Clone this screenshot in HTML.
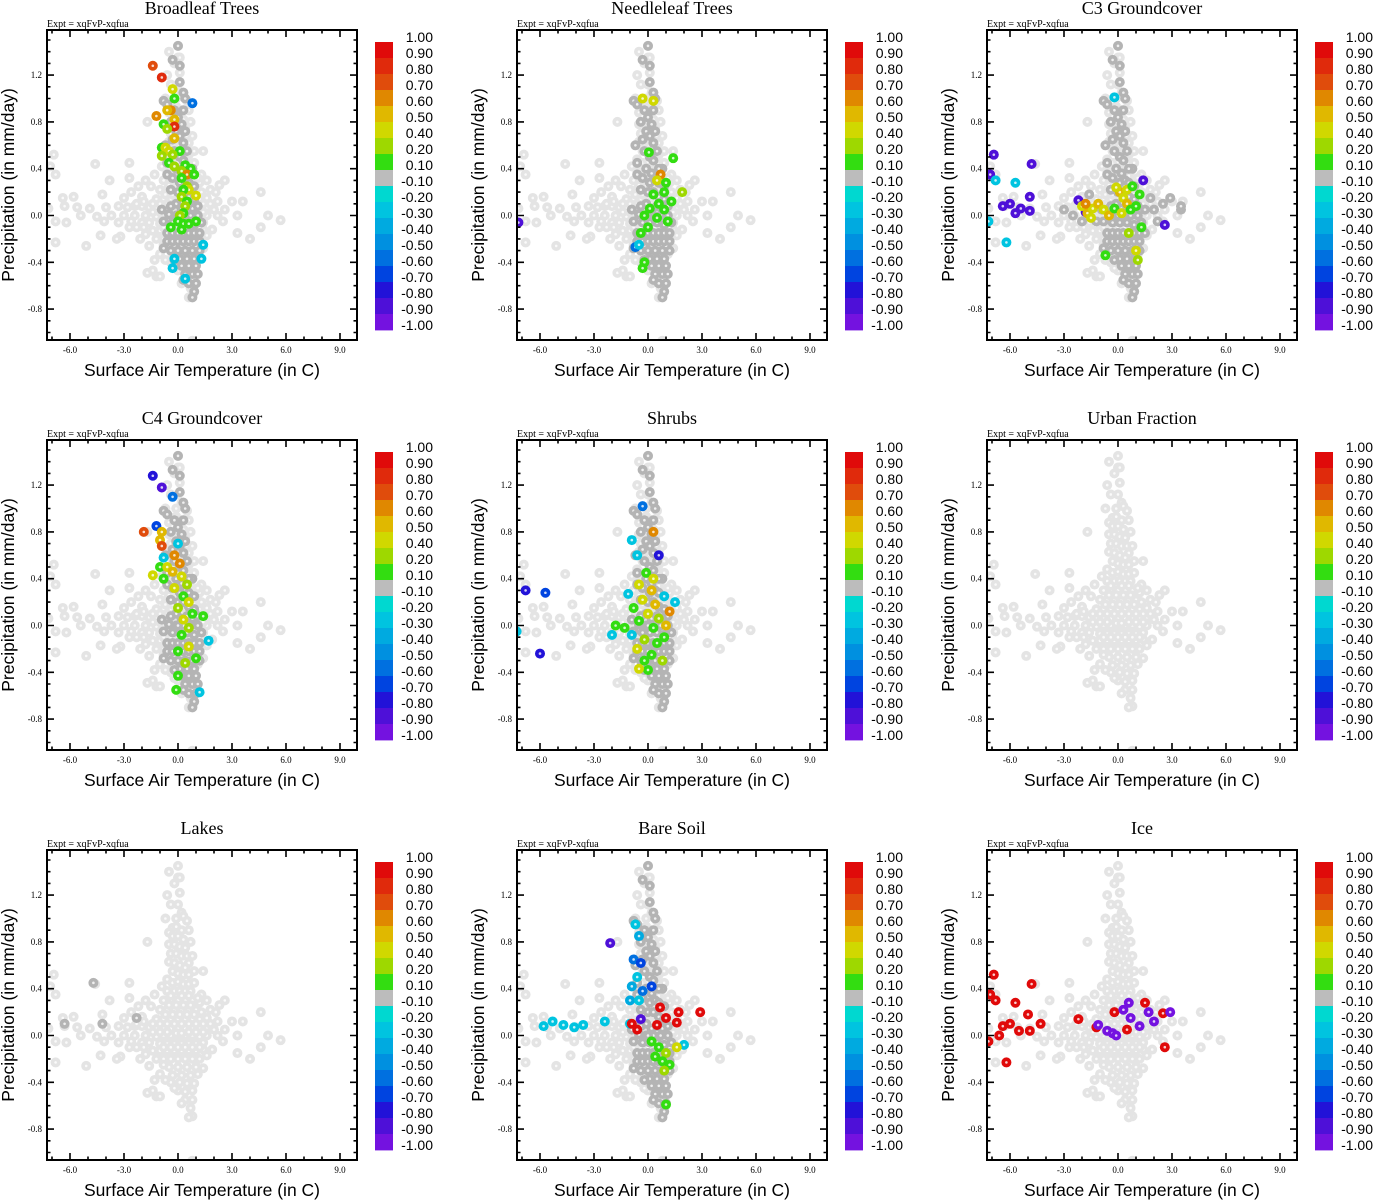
<!DOCTYPE html>
<html><head><meta charset="utf-8">
<style>
html,body{margin:0;padding:0;background:#fff;}
svg{display:block;}
.title{font-family:"Liberation Serif",serif;font-size:18px;}
.expt{font-family:"Liberation Serif",serif;font-size:10px;}
.tick{font-family:"Liberation Serif",serif;font-size:9px;}
.axt{font-family:"Liberation Sans",sans-serif;font-size:17.5px;}
.cbl{font-family:"Liberation Sans",sans-serif;font-size:14px;}
</style></head>
<body>
<svg id="fig" width="1373" height="1200" viewBox="0 0 1373 1200" xmlns="http://www.w3.org/2000/svg"></svg>
<script>
// ---- data ----
const panelTitles = ["Broadleaf Trees","Needleleaf Trees","C3 Groundcover","C4 Groundcover","Shrubs","Urban Fraction","Lakes","Bare Soil","Ice"];
const xTicks = [-6,-3,0,3,6,9];
const xTickLabels = ["-6.0","-3.0","0.0","3.0","6.0","9.0"];
const yTicks = [-0.8,-0.4,0,0.4,0.8,1.2];
const yTickLabels = ["-0.8","-0.4","0.0","0.4","0.8","1.2"];
const cbLabels = ["1.00","0.90","0.80","0.70","0.60","0.50","0.40","0.20","0.10","-0.10","-0.20","-0.30","-0.40","-0.50","-0.60","-0.70","-0.80","-0.90","-1.00"];
const cbBounds = [1,0.9,0.8,0.7,0.6,0.5,0.4,0.2,0.1,-0.1,-0.2,-0.3,-0.4,-0.5,-0.6,-0.7,-0.8,-0.9,-1.0];
const cbColors = ["#e00a0a","#e02a0c","#e04c0c","#e08800","#e0b800","#d0d800","#9ed800","#33dd11","#bcbcbc","#00d8d0","#00c4e0","#00aae0","#0090e0","#0070e0","#0044e0","#2212d8","#4e10d8","#7412e0"];
// background cloud (temp C, precip mm/day), common to all panels
const cloudPts = [[0,1.45],[0,1.35],[-0.2,1.3],[0.1,1.22],[-0.6,1.2],[-0.4,1.12],[0,1.12],[0.2,1.05],[-0.1,1.0],[0.3,1.02],[0.5,0.98],[-0.3,0.92],[-0.1,0.93],[-0.5,0.88],[-0.3,0.85],[0,0.85],[0.3,0.82],[-1.7,0.8],[-0.5,0.78],[-0.2,0.78],[0.1,0.76],[0.4,0.75],[-0.4,0.7],[-0.1,0.7],[0.2,0.68],[0.5,0.68],[0.6,0.62],[-0.5,0.63],[-0.2,0.62],[0.1,0.6],[0.4,0.58],[-0.3,0.55],[0,0.53],[0.3,0.52],[0.6,0.52],[1.4,0.55],[-2.7,0.45],[-0.6,0.48],[-0.3,0.45],[0,0.46],[0.3,0.44],[0.6,0.44],[0.9,0.45],[-0.6,0.38],[-0.2,0.38],[0.1,0.38],[0.4,0.38],[0.7,0.38],[1.3,0.35],[-6.9,0.52],[-7.1,0.42],[-6.8,0.35],[-4.6,0.44],[-3.8,0.3],[-2.7,0.32],[-0.8,0.3],[-0.4,0.3],[0,0.3],[0.4,0.3],[0.8,0.3],[1.2,0.28],[1.6,0.3],[2.3,0.26],[2.6,0.3],[-1.5,0.25],[-1.0,0.22],[-0.6,0.22],[-0.2,0.22],[0.2,0.22],[0.6,0.22],[1.0,0.22],[1.8,0.22],[2.1,0.2],[4.6,0.2],[-6.4,0.15],[-5.8,0.16],[-4.2,0.18],[-3.0,0.15],[-2.0,0.16],[-1.2,0.14],[-0.8,0.14],[-0.4,0.14],[0,0.14],[0.4,0.14],[0.8,0.14],[1.2,0.14],[1.6,0.15],[2.2,0.12],[3.0,0.12],[3.6,0.12],[-7.2,0.06],[-6.3,0.08],[-5.6,0.07],[-4.9,0.06],[-4.0,0.07],[-3.3,0.08],[-2.8,0.07],[-2.4,0.08],[-2.0,0.08],[-1.6,0.07],[-1.2,0.06],[-0.8,0.06],[-0.4,0.06],[0,0.06],[0.4,0.06],[0.8,0.06],[1.2,0.06],[1.6,0.07],[2.0,0.05],[2.6,0.05],[-5.4,0],[-4.5,-0.01],[-3.7,0],[-3.0,0],[-2.4,0],[-1.8,0],[-1.2,-0.01],[-0.8,0],[-0.4,0],[0,0],[0.4,0],[0.8,0],[1.2,-0.01],[1.6,0],[2.2,0],[3.3,0],[5.0,0],[-6.8,-0.05],[-6.2,-0.06],[-4.1,-0.05],[-3.3,-0.06],[-2.6,-0.05],[-2.0,-0.06],[-1.6,-0.06],[-1.0,-0.07],[-0.6,-0.07],[-0.2,-0.07],[0.2,-0.07],[0.6,-0.07],[1.0,-0.07],[1.4,-0.06],[2.5,-0.05],[5.7,-0.04],[-1.4,-0.13],[-1.0,-0.13],[-0.6,-0.13],[-0.2,-0.13],[0.2,-0.13],[0.6,-0.13],[1.0,-0.13],[1.4,-0.12],[1.9,-0.12],[3.3,-0.15],[4.6,-0.1],[-6.8,-0.23],[-4.3,-0.17],[-3.2,-0.18],[-2.1,-0.2],[-0.8,-0.2],[-0.4,-0.2],[0,-0.2],[0.4,-0.2],[0.8,-0.2],[1.2,-0.2],[4.0,-0.2],[-5.1,-0.26],[-3.4,-0.2],[-1.6,-0.26],[-0.5,-0.27],[0,-0.27],[0.5,-0.27],[1.0,-0.27],[-1.0,-0.33],[-0.3,-0.34],[0.2,-0.34],[0.7,-0.34],[1.1,-0.33],[-0.4,-0.4],[0.1,-0.4],[0.5,-0.41],[0.9,-0.41],[-1.7,-0.49],[-1.4,-0.47],[0,-0.47],[0.4,-0.48],[0.8,-0.47],[-1.2,-0.52],[-1.0,-0.52],[0.4,-0.55],[0.8,-0.55],[0.7,-0.62],[0.8,-0.69],[0.8,-1.07]];
const cloudCore = [[-2.6,0.2],[-2.2,0.25],[-1.8,0.3],[-1.3,0.35],[-0.9,0.42],[-2.3,0.1],[-1.9,0.12],[-1.4,0.1],[-1.0,0.1],[-0.6,0.1],[-0.2,0.1],[0.2,0.1],[0.6,0.1],[1.0,0.1],[1.4,0.1],[1.8,0.1],[-2.7,-0.1],[-2.3,-0.1],[-1.9,-0.1],[-1.2,-0.2],[-1.8,-0.16],[-0.8,-0.1],[-0.4,-0.1],[0,-0.1],[0.4,-0.1],[0.8,-0.1],[1.2,-0.1],[1.6,-0.17],[1.4,-0.28],[-0.8,-0.25],[-0.2,-0.45],[-0.7,-0.38],[-1.3,-0.38],[0.2,-0.58],[0.6,-0.7],[-0.1,0.02],[0.2,0.02],[0.6,0.03],[1.0,0.03],[-0.6,0.03],[-1.0,0.03],[-1.4,0.03],[1.4,0.03],[-0.7,0.18],[-0.3,0.18],[0.1,0.18],[0.5,0.18],[0.9,0.18],[1.3,0.2],[-0.5,0.26],[-0.1,0.26],[0.3,0.26],[0.7,0.26],[1.1,0.32],[-0.4,0.34],[0.2,0.34],[0.6,0.34],[0.9,0.55],[0.8,0.68],[0.7,0.8],[-0.7,1.0],[0.6,0.9],[0.2,0.9],[0.1,1.35],[-0.5,1.4]];
// insignificant (dark gray) band
const darkBand = [[0,1.45],[-0.3,1.33],[0.1,1.28],[0.1,1.14],[0.3,1.05],[0.4,1.0],[-0.8,0.98],[-0.6,0.95],[0,0.84],[0.2,0.78],[-0.1,0.72],[0.1,0.68],[0.3,0.62],[-0.7,0.6],[-0.6,0.45],[0.1,0.5],[0.3,0.47],[0.8,0.4],[-0.6,0.35],[-0.3,0.32],[0.1,0.28],[0.4,0.3],[0.6,0.28],[0,0.2],[0.6,0.16],[0.9,0.14],[-0.1,0.1],[0.2,0.06],[0.8,0.06],[-0.1,0],[0.3,0],[0.7,0],[1.1,0],[-0.8,-0.05],[-0.5,0.01],[0.9,-0.08],[-0.6,-0.15],[-0.3,-0.15],[0,-0.15],[0.3,-0.15],[0.6,-0.15],[0.9,-0.15],[1.2,-0.15],[-0.6,-0.22],[-0.3,-0.22],[0,-0.22],[0.3,-0.22],[0.6,-0.22],[0.9,-0.22],[1.2,-0.22],[-0.8,-0.28],[-0.4,-0.3],[0,-0.3],[0.4,-0.3],[0.8,-0.3],[1.2,-0.3],[0.1,-0.37],[0.5,-0.37],[0.9,-0.37],[0.2,-0.43],[0.6,-0.43],[1.0,-0.43],[0.4,-0.5],[0.8,-0.5],[1.1,-0.5],[0.6,-0.58],[1.0,-0.58],[0.9,-0.65],[0.8,-0.7],[-0.2,0.9],[0.3,0.9],[-0.4,0.8],[0.4,0.72],[-0.3,0.65],[0.5,0.55],[-0.2,0.55],[0.6,0.4],[-0.1,0.4],[0.2,0.36],[-0.4,0.22],[0.3,0.2],[0.9,0.25],[-0.4,0.08],[0.5,0.08],[1.1,0.08],[0.1,-0.06],[0.5,-0.06],[-0.3,-0.06],[1.3,-0.06],[-0.2,-0.38],[0.3,-0.55],[0.0,0.0],[-0.9,0.05]];
const c3DarkExtra = [[-2.5,0],[-2.0,-0.05],[-1.2,-0.05],[1.5,0.05],[2.0,0.05],[2.5,0.1],[3.5,0.05],[2.2,-0.05],[1.8,0.15],[-3.0,0.05],[2.9,0.15],[1.5,-0.15],[-1.6,0.18],[3.5,0.08]];
const lakesDark = [[-4.7,0.45],[-6.3,0.1],[-4.2,0.1],[-2.3,0.15]];
// coloured points: [temp, precip, correlation]
const broadleafPts = [[-1.4,1.28,0.75],[-0.9,1.18,0.85],[-0.3,1.08,0.45],[-0.2,1.0,0.15],[0.8,0.96,-0.55],[-0.4,0.9,0.65],[-0.6,0.9,0.55],[-1.2,0.85,0.65],[-0.2,0.82,0.55],[-0.8,0.78,0.15],[-0.2,0.76,0.85],[-0.6,0.74,0.3],[-0.2,0.66,0.55],[-0.9,0.58,0.15],[-0.7,0.58,0.45],[-0.5,0.55,0.45],[0.1,0.55,0.15],[-0.9,0.51,0.3],[-0.3,0.52,0.3],[-0.5,0.45,0.15],[0.4,0.43,0.15],[-0.2,0.42,0.3],[0.7,0.4,0.15],[0.2,0.38,0.3],[0.5,0.35,0.65],[0.2,0.32,0.15],[0.9,0.35,0.15],[0.5,0.25,0.3],[0.6,0.22,0.45],[0.3,0.22,0.15],[1.0,0.17,0.45],[0.2,0.16,0.3],[0.5,0.12,0.15],[0.4,0.08,0.3],[0.3,0.02,0.15],[0.1,0,0.3],[0,-0.05,0.15],[0.3,-0.07,0.15],[0.6,-0.07,0.15],[1.0,-0.05,0.15],[-0.4,-0.1,0.15],[0.2,-0.12,0.15],[1.4,-0.25,-0.25],[-0.2,-0.37,-0.25],[1.3,-0.37,-0.25],[-0.3,-0.45,-0.25],[0.4,-0.54,-0.25]];
const needleleafPts = [[-7.2,-0.06,-0.85],[-0.3,1.0,0.45],[0.3,0.98,0.45],[0.05,0.54,0.15],[1.4,0.49,0.15],[0.7,0.35,0.65],[0.5,0.3,0.45],[1.0,0.28,0.15],[1.9,0.2,0.3],[0.9,0.2,0.15],[0.3,0.18,0.15],[1.3,0.12,0.15],[0.6,0.1,0.15],[0.1,0.06,0.15],[0.9,0.05,0.15],[-0.2,0,0.15],[0.5,-0.02,0.15],[1.1,-0.05,0.15],[0,-0.1,0.15],[-0.4,-0.15,0.15],[-0.7,-0.27,-0.55],[-0.5,-0.25,-0.3],[-0.2,-0.4,0.15],[-0.3,-0.45,0.15]];
const c3Pts = [[-6.9,0.52,-0.85],[-7.1,0.35,-0.85],[-6.8,0.3,-0.25],[-5.7,0.28,-0.25],[-4.8,0.44,-0.85],[-6.4,0.08,-0.85],[-6.0,0.1,-0.85],[-5.7,0.02,-0.85],[-5.4,0.06,-0.85],[-4.9,0.16,-0.85],[-4.9,0.04,-0.85],[-6.2,-0.23,-0.25],[-7.2,-0.05,-0.25],[-2.2,0.13,-0.85],[-1.8,0.03,-0.85],[-0.2,1.01,-0.25],[1.4,0.3,-0.85],[2.6,-0.08,-0.85],[-2.0,0.08,0.45],[-1.7,0.02,0.55],[-1.4,0.06,0.45],[-1.1,0.1,0.55],[-0.8,0.05,0.45],[-1.5,-0.02,0.45],[-0.5,0,0.55],[-0.2,0.06,0.15],[0.1,0.2,0.55],[0.3,0.15,0.45],[0.5,0.1,0.55],[0.2,0.02,0.45],[0.7,0.05,0.15],[1.0,0.08,0.15],[1.2,0.18,0.15],[0.5,0.22,0.45],[-0.1,0.24,0.45],[0.8,0.25,0.15],[1.3,-0.1,0.15],[0.6,-0.15,0.3],[-0.7,-0.34,0.15],[1.0,-0.3,0.45],[1.1,-0.38,0.3],[-1.8,0.1,0.65]];
const c4Pts = [[-1.4,1.28,-0.75],[-0.9,1.18,-0.85],[-0.3,1.1,-0.55],[-1.9,0.8,0.75],[-1.2,0.85,-0.65],[-0.9,0.8,0.55],[-1.0,0.73,0.55],[0,0.7,-0.25],[-0.9,0.68,0.75],[-0.8,0.58,-0.25],[-0.2,0.6,0.65],[0.1,0.53,0.65],[-1.0,0.5,0.15],[-0.6,0.5,0.45],[-0.3,0.46,0.55],[0.2,0.42,0.45],[-1.4,0.43,0.45],[-0.8,0.4,0.15],[0.5,0.35,0.3],[-0.2,0.32,0.45],[0.3,0.25,0.15],[0.6,0.2,0.45],[0,0.15,0.3],[0.8,0.1,0.15],[0.3,0.05,0.45],[0.6,-0.02,0.3],[1.4,0.08,0.15],[0.2,-0.08,0.15],[1.7,-0.13,-0.3],[0.6,-0.18,0.45],[0,-0.22,0.15],[1.0,-0.28,0.15],[0.4,-0.32,0.3],[0,-0.43,0.15],[-0.1,-0.55,0.15],[1.2,-0.57,-0.3]];
const shrubPts = [[-6.8,0.3,-0.75],[-5.7,0.28,-0.65],[-6.0,-0.24,-0.75],[-7.3,-0.05,-0.25],[-0.3,1.02,-0.55],[0.3,0.8,0.65],[-0.9,0.73,-0.25],[-0.6,0.6,-0.25],[0.6,0.6,-0.75],[-0.1,0.45,0.15],[0.3,0.4,0.45],[-0.5,0.35,0.45],[0.2,0.3,0.55],[-1.1,0.27,-0.25],[0.9,0.25,-0.25],[-0.3,0.22,0.45],[0.4,0.18,0.55],[-0.8,0.15,0.15],[1.2,0.12,0.65],[0,0.1,0.45],[0.6,0.06,0.3],[-0.5,0.04,0.15],[1.5,0.2,-0.25],[-1.3,-0.02,0.15],[0.3,-0.02,0.15],[-0.9,-0.08,-0.25],[0.9,-0.1,0.15],[-0.2,-0.12,0.3],[0.5,-0.15,0.15],[-0.6,-0.2,0.45],[0.2,-0.25,0.15],[-0.2,-0.3,0.15],[0.8,-0.3,0.3],[0,-0.38,0.15],[-1.8,0,0.15],[-2.0,-0.08,-0.25],[1.0,0,0.55],[-0.5,-0.37,0.45]];
const bareSoilPts = [[-2.1,0.79,-0.85],[-5.3,0.12,-0.25],[-4.7,0.09,-0.25],[-5.8,0.08,-0.25],[-4.1,0.07,-0.25],[-3.6,0.09,-0.25],[-2.4,0.12,-0.25],[-1.0,0.1,-0.25],[-0.7,0.95,-0.25],[-0.5,0.85,-0.35],[-0.8,0.65,-0.55],[-0.4,0.62,-0.65],[-0.6,0.5,-0.25],[-0.9,0.42,-0.35],[-0.3,0.38,-0.55],[-1.0,0.3,-0.35],[-0.5,0.3,-0.25],[0.2,0.42,-0.65],[0.67,0.24,0.95],[1.7,0.2,0.95],[2.9,0.2,0.95],[-0.9,0.1,0.95],[-0.6,0.05,0.95],[0.5,0.09,0.95],[1.6,0.11,0.95],[1.0,0.15,0.95],[-0.4,0.14,-0.85],[0.2,-0.05,0.15],[0.6,-0.1,0.15],[1.0,-0.15,0.3],[0.4,-0.18,0.15],[0.8,-0.22,0.15],[1.2,-0.25,0.15],[0.9,-0.3,0.3],[1.0,-0.59,0.15],[2.0,-0.08,-0.25],[1.6,-0.1,0.45]];
const icePts = [[-6.9,0.52,0.95],[-7.1,0.35,0.95],[-6.8,0.3,0.95],[-5.7,0.28,0.95],[-4.8,0.44,0.95],[-6.4,0.08,0.95],[-6.0,0.1,0.95],[-5.5,0.04,0.95],[-4.9,0.04,0.95],[-4.3,0.1,0.95],[-6.2,-0.23,0.95],[-7.2,-0.05,0.95],[-2.2,0.14,0.95],[-1.2,0.07,0.95],[-0.2,0.2,0.95],[1.5,0.28,0.95],[2.5,0.19,0.95],[2.6,-0.1,0.95],[0.5,0.05,0.95],[-6.6,0,0.95],[-5.0,0.18,0.95],[-1.1,0.09,-0.95],[-0.6,0.04,-0.95],[-0.3,0.02,-0.95],[-0.1,0,-0.95],[0.6,0.28,-0.95],[0.7,0.15,-0.95],[1.2,0.08,-0.95],[2.0,0.12,-0.95],[2.9,0.2,-0.95],[0.3,0.22,-0.95],[1.7,0.2,-0.95]];
const panelColored = [broadleafPts,needleleafPts,c3Pts,c4Pts,shrubPts,[],[],bareSoilPts,icePts];
const panelDark = [darkBand,darkBand,darkBand.concat(c3DarkExtra),darkBand,darkBand,[],lakesDark,darkBand,[]];

// ---- drawing ----
const NS = "http://www.w3.org/2000/svg";
const svg = document.getElementById("fig");
function mk(tag, attrs, parent) {
  const e = document.createElementNS(NS, tag);
  for (const k in attrs) e.setAttribute(k, attrs[k]);
  parent.appendChild(e);
  return e;
}
function colorFor(v) {
  for (let i = 0; i < cbColors.length; i++) {
    if (v <= cbBounds[i] && v >= cbBounds[i + 1]) return cbColors[i];
  }
  return v > 0 ? cbColors[0] : cbColors[cbColors.length - 1];
}
function slug(s){return s.toLowerCase().replace(/[^a-z0-9]+/g,'-');}

panelTitles.forEach((title, p) => {
  const ox = (p % 3) * 470, oy = Math.floor(p / 3) * 410;
  const L = ox + 47, R = ox + 357, T = oy + 30, B = oy + 340;
  const xs = v => ox + 178 + 18 * v;
  const ys = v => oy + 215.5 - 117 * v;
  const g = mk("g", {}, svg);
  
  

  const t = mk("text", {x: ox + 202, y: oy + 14, "text-anchor": "middle", class: "title"}, g);
  t.textContent = title;
  
  
  const ex = mk("text", {x: L, y: oy + 27, class: "expt"}, g);
  ex.textContent = "Expt = xqFvP-xqfua";
  
  

  const cid = "clip" + p;
  const cp = mk("clipPath", {id: cid}, g);
  mk("rect", {x: L, y: T, width: R - L, height: B - T}, cp);
  const pts = mk("g", {"clip-path": "url(#" + cid + ")"}, g);
  
  
  function dot(x, y, col, name) {
    const c = mk("circle", {cx: xs(x), cy: ys(y), r: 5, fill: col}, pts);
    
    
    const h = mk("circle", {cx: xs(x), cy: ys(y), r: 1.3, fill: "#fff", "fill-opacity": 0.8}, pts);
    
    
  }
  cloudPts.concat(cloudCore).forEach(q => dot(q[0], q[1], "#e4e4e4", "background-point"));
  panelDark[p].forEach(q => dot(q[0], q[1], "#b4b4b4", "insignificant-point"));
  panelColored[p].forEach(q => dot(q[0], q[1], colorFor(q[2]), "correlation-point"));

  // frame
  const fr = mk("rect", {x: L, y: T, width: R - L, height: B - T, fill: "none", stroke: "#000", "stroke-width": 2}, g);
  
  
  // ticks
  let d = "";
  for (let v = -7; v <= 9; v++) {
    const len = (v % 3 === 0) ? 7 : 3.5, X = xs(v);
    d += `M${X},${B}v${-len}M${X},${T}v${len}`;
  }
  for (let k = -10; k <= 15; k++) {
    const v = k / 10, len = (k % 4 === 0) ? 7 : 3.5, Y = ys(v);
    d += `M${L},${Y}h${len}M${R},${Y}h${-len}`;
  }
  const tk = mk("path", {d: d, stroke: "#000", "stroke-width": 1.6, fill: "none"}, g);
  
  
  xTicks.forEach((v, i) => {
    const e = mk("text", {x: xs(v), y: B + 13, "text-anchor": "middle", class: "tick"}, g);
    e.textContent = xTickLabels[i];
    
    
  });
  yTicks.forEach((v, i) => {
    const e = mk("text", {x: L - 5, y: ys(v) + 3, "text-anchor": "end", class: "tick"}, g);
    e.textContent = yTickLabels[i];
    
    
  });
  const xt = mk("text", {x: ox + 202, y: oy + 376, "text-anchor": "middle", class: "axt"}, g);
  xt.textContent = "Surface Air Temperature (in C)";
  
  
  const yt = mk("text", {x: 0, y: 0, "text-anchor": "middle", class: "axt", transform: `translate(${ox + 14},${oy + 185}) rotate(-90)`}, g);
  yt.textContent = "Precipitation (in mm/day)";
  
  

  // colorbar
  const cb = mk("g", {}, g);
  
  
  cbColors.forEach((c, i) => {
    const r = mk("rect", {x: ox + 375, y: oy + 42 + 16 * i, width: 18, height: 16.4, fill: c}, cb);
    
    
  });
  cbLabels.forEach((s, i) => {
    const e = mk("text", {x: ox + 433, y: oy + 42 + 16 * i, "text-anchor": "end", class: "cbl"}, cb);
    e.textContent = s;
    
    
  });
});
</script>
</body></html>
